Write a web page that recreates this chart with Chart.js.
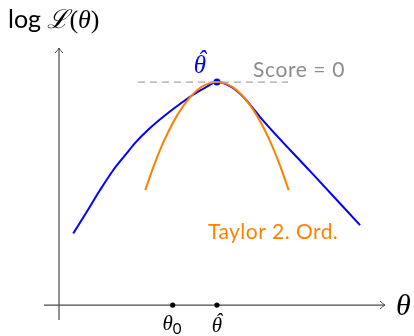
<!DOCTYPE html>
<html>
<head>
<meta charset="utf-8">
<script src="https://cdn.jsdelivr.net/npm/chart.js@4/dist/chart.umd.min.js"></script>
<style>
  html, body { margin: 0; padding: 0; background: #fff; }
  canvas { display: block; }
</style>
</head>
<body>
<canvas id="likelihood" width="414" height="336"></canvas>
<script>
// Log-Likelihood mit Taylor-Näherung 2. Ordnung um das Maximum
const thetaHat = 5;
const theta0 = 3.6;
const peakValue = 7;

const logLikX = [0.45, 0.88, 1.30, 1.72, 2.14, 2.41, 2.83, 3.35, 3.88, 4.30, 4.62, 5.00, 5.41, 5.83, 6.15, 6.36, 7.94, 9.53];
const logLikY = [2.25, 2.93, 3.61, 4.24, 4.76, 5.09, 5.51, 5.95, 6.35, 6.64, 6.82, 7.00, 6.87, 6.54, 6.17, 5.91, 4.21, 2.51];

// Taylor-Polynom 2. Ordnung
const taylorX = [2.73, 3.00, 3.25, 3.50, 3.75, 4.00, 4.25, 4.50, 4.75, 5.00, 5.25, 5.50, 5.75, 6.00, 6.25, 6.50, 6.75, 7.00, 7.27];
const taylorY = [3.61, 4.37, 4.99, 5.52, 5.97, 6.34, 6.63, 6.84, 6.96, 7.00, 6.96, 6.84, 6.63, 6.34, 5.97, 5.52, 4.99, 4.37, 3.61];

// gestrichelte Tangente (Score = 0)
const scoreLineX = [2.5, 7.25];

const BLUE = '#0000ff';
const ORANGE = '#ff8000';
const GREY = '#8c8c8c';
const AXIS = '#4a4a4a';

const toPoints = (xs, ys) => xs.map((x, i) => ({ x: x, y: ys[i] }));

// Achsen mit Pfeilspitzen
const axesPlugin = {
  id: 'axes',
  beforeDatasetsDraw(chart) {
    const { ctx, chartArea, scales } = chart;
    const x0 = scales.x.getPixelForValue(0);
    const y0 = scales.y.getPixelForValue(0);
    ctx.save();
    ctx.strokeStyle = AXIS;
    ctx.lineWidth = 1.2;
    ctx.beginPath();
    ctx.moveTo(x0, chartArea.bottom);
    ctx.lineTo(x0, chartArea.top);
    ctx.moveTo(chartArea.left, y0);
    ctx.lineTo(chartArea.right, y0);
    ctx.stroke();
    // Pfeilspitzen
    ctx.lineWidth = 1;
    ctx.beginPath();
    ctx.moveTo(x0 - 4, chartArea.top + 5);
    ctx.quadraticCurveTo(x0 - 1, chartArea.top + 2, x0, chartArea.top);
    ctx.quadraticCurveTo(x0 + 1, chartArea.top + 2, x0 + 4, chartArea.top + 5);
    ctx.moveTo(chartArea.right - 5, y0 - 4);
    ctx.quadraticCurveTo(chartArea.right - 2, y0 - 1, chartArea.right, y0);
    ctx.quadraticCurveTo(chartArea.right - 2, y0 + 1, chartArea.right - 5, y0 + 4);
    ctx.stroke();
    ctx.restore();
  }
};

// Beschriftungen
const labelPlugin = {
  id: 'labels',
  afterDraw(chart) {
    const { ctx, scales } = chart;
    const px = v => scales.x.getPixelForValue(v);
    const py = v => scales.y.getPixelForValue(v);
    const mathFont = size => 'italic ' + size + 'px "Liberation Serif", serif';

    // theta mit Dach, zentriert um cx
    const thetaHatText = (cx, baseline, size) => {
      ctx.textAlign = 'center';
      ctx.font = mathFont(size);
      ctx.fillText('θ', cx, baseline);
      ctx.fillText('ˆ', cx + size * 0.08, baseline - size * 0.2);
    };

    ctx.save();
    ctx.textBaseline = 'alphabetic';

    // y-Achsentitel: log L(theta)
    ctx.fillStyle = '#000';
    ctx.textAlign = 'left';
    let x = 8;
    ctx.font = '25px Lato, sans-serif';
    ctx.fillText('log', x, 28);
    x += ctx.measureText('log ').width;
    ctx.font = mathFont(26);
    ctx.fillText('ℒ', x, 28);
    x += ctx.measureText('ℒ').width;
    ctx.font = '26px "Liberation Serif", serif';
    ctx.fillText('(', x, 28);
    x += ctx.measureText('(').width;
    ctx.font = mathFont(26);
    ctx.fillText('θ', x, 28);
    x += ctx.measureText('θ').width;
    ctx.font = '26px "Liberation Serif", serif';
    ctx.fillText(')', x, 28);

    // x-Achsentitel
    ctx.font = mathFont(30);
    ctx.fillText('θ', 396, 315);

    // theta-hat über dem Maximum
    ctx.fillStyle = BLUE;
    thetaHatText(px(thetaHat) - 17, py(peakValue) - 9, 25);

    // Score = 0
    ctx.fillStyle = GREY;
    ctx.textAlign = 'left';
    ctx.font = '21px Lato, sans-serif';
    ctx.letterSpacing = '0.6px';
    ctx.fillText('Score = 0', px(scoreLineX[1]) - 35, py(peakValue) - 5);

    // Taylor 2. Ord.
    ctx.fillStyle = ORANGE;
    ctx.letterSpacing = '0.45px';
    ctx.fillText('Taylor 2. Ord.', 208, 239);
    ctx.letterSpacing = '0px';

    // Markierungen auf der theta-Achse
    ctx.fillStyle = '#000';
    ctx.font = mathFont(21);
    ctx.textAlign = 'right';
    ctx.fillText('θ', px(theta0), py(0) + 25);
    ctx.textAlign = 'left';
    ctx.font = '15px Lato, sans-serif';
    ctx.fillText('0', px(theta0), py(0) + 29);
    thetaHatText(px(thetaHat), py(0) + 27, 21);
    ctx.restore();
  }
};

new Chart(document.getElementById('likelihood'), {
  type: 'scatter',
  data: {
    datasets: [
      {
        label: 'Score = 0',
        data: toPoints(scoreLineX, [peakValue, peakValue]),
        showLine: true,
        borderColor: '#a6a6a6',
        borderWidth: 1.4,
        borderDash: [7, 5],
        pointRadius: 0
      },
      {
        label: 'Taylor 2. Ord.',
        data: toPoints(taylorX, taylorY),
        showLine: true,
        borderColor: ORANGE,
        borderWidth: 2,
        cubicInterpolationMode: 'monotone',
        pointRadius: 0
      },
      {
        label: 'log L',
        data: toPoints(logLikX, logLikY),
        showLine: true,
        borderColor: BLUE,
        borderWidth: 2,
        cubicInterpolationMode: 'monotone',
        pointRadius: 0
      },
      {
        label: 'Maximum',
        data: [{ x: thetaHat, y: peakValue }],
        pointRadius: 3.5,
        pointBackgroundColor: BLUE,
        pointBorderWidth: 0
      },
      {
        label: 'theta',
        data: [{ x: theta0, y: 0 }, { x: thetaHat, y: 0 }],
        pointRadius: 2.6,
        pointBackgroundColor: '#000',
        pointBorderWidth: 0
      }
    ]
  },
  options: {
    responsive: false,
    animation: false,
    devicePixelRatio: 1,
    layout: { padding: { left: 44, right: 29, top: 48, bottom: 16 } },
    plugins: {
      legend: { display: false },
      tooltip: { enabled: false }
    },
    scales: {
      x: { type: 'linear', min: -0.475, max: 10.32, display: false },
      y: { type: 'linear', min: -0.47, max: 8.07, display: false }
    }
  },
  plugins: [axesPlugin, labelPlugin]
});
</script>
</body>
</html>
